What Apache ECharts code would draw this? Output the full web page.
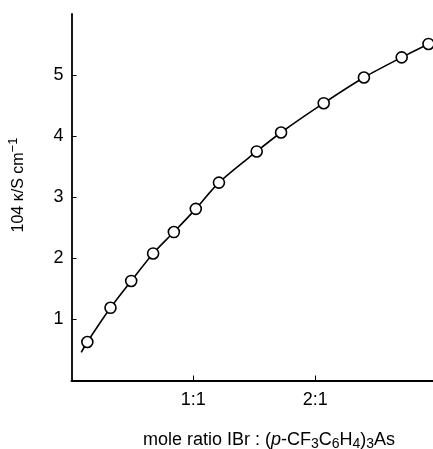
<!DOCTYPE html>
<html>
<head>
<meta charset="utf-8">
<script src="https://cdn.jsdelivr.net/npm/echarts@6/dist/echarts.min.js"></script>
<style>html,body{margin:0;padding:0;background:#fff}#c{width:433px;height:449px}</style>
</head>
<body>
<div id="c"></div>
<script>
// mole ratio IBr : (p-CF3C6H4)3As
var ratioX = [0.13, 0.32, 0.49, 0.67, 0.84, 1.02, 1.21, 1.52, 1.72, 2.07, 2.40, 2.71, 2.93];
// 10^4 kappa / S cm^-1
var kappaY = [0.63, 1.19, 1.63, 2.08, 2.43, 2.81, 3.24, 3.75, 4.06, 4.54, 4.96, 5.29, 5.51];
// ends of the drawn fit curve
var curveStart = [0.08, 0.46];
var curveEnd = [2.97, 5.54];
var xTickLabels = {1: '1:1', 2: '2:1'};
var yTickLabels = ['1', '2', '3', '4', '5'];

var pts = ratioX.map(function (x, i) { return [x, kappaY[i]]; });
var curve = [curveStart].concat(pts, [curveEnd]);

var font = '"Liberation Sans", Arial, sans-serif';
var chart = echarts.init(document.getElementById('c'), null, {renderer: 'canvas'});
chart.setOption({
  animation: false,
  backgroundColor: '#fff',
  grid: {left: 71.5, right: 0, top: 14, bottom: 68.5},
  xAxis: {
    type: 'value', min: 0, max: 2.967, interval: 1,
    axisLine: {lineStyle: {color: '#000', width: 2}},
    axisTick: {inside: true, length: 5, lineStyle: {color: '#000', width: 1}},
    splitLine: {show: false},
    axisLabel: {
      showMaxLabel: false, showMinLabel: false, margin: 11,
      color: '#000', fontFamily: font, fontSize: 18,
      formatter: function (v) { return xTickLabels[Math.round(v)] || ''; }
    }
  },
  yAxis: {
    type: 'value', min: 0, max: 6, interval: 1,
    axisLine: {show: true, lineStyle: {color: '#000', width: 1.8}},
    axisTick: {inside: true, length: 5, lineStyle: {color: '#000', width: 1}},
    splitLine: {show: false},
    axisLabel: {
      showMinLabel: false, showMaxLabel: false, margin: 8,
      color: '#000', fontFamily: font, fontSize: 18,
      formatter: function (v) { var i = Math.round(v); return (i >= 1 && i <= 5) ? yTickLabels[i - 1] : ''; }
    }
  },
  series: [
    {
      type: 'line', data: curve, smooth: 0.3, showSymbol: false, clip: true,
      lineStyle: {color: '#000', width: 1.6}, z: 2
    },
    {
      type: 'scatter', data: pts, symbol: 'circle', symbolSize: 11,
      itemStyle: {color: '#fff', borderColor: '#000', borderWidth: 1.6, opacity: 1}, z: 3
    }
  ],
  graphic: [
    {
      type: 'text', x: 269, y: 441,
      style: {
        text: '{m|mole ratio IBr : (}{i|p}{m|-CF}{s|3}{m|C}{s|6}{m|H}{s|4}{m|)}{s|3}{m|As}',
        align: 'center', verticalAlign: 'middle',
        rich: {
          m: {fontFamily: font, fontSize: 18, fill: '#000', lineHeight: 20, verticalAlign: 'top'},
          i: {fontFamily: font, fontSize: 18, fontStyle: 'italic', fill: '#000', lineHeight: 20, verticalAlign: 'top'},
          s: {fontFamily: font, fontSize: 14, fill: '#000', lineHeight: 14, padding: [11, 0, 0, 0], verticalAlign: 'bottom'}
        }
      }
    },
    {
      type: 'text', x: 17, y: 185, rotation: Math.PI / 2,
      style: {
        text: '{m|104 κ/S cm}{p|−1}',
        align: 'center', verticalAlign: 'middle',
        rich: {
          m: {fontFamily: font, fontSize: 16, fill: '#000', lineHeight: 20, verticalAlign: 'bottom'},
          p: {fontFamily: font, fontSize: 13, fill: '#000', lineHeight: 14, padding: [0, 0, 10, 0], verticalAlign: 'top'}
        }
      }
    }
  ]
});
</script>
</body>
</html>
